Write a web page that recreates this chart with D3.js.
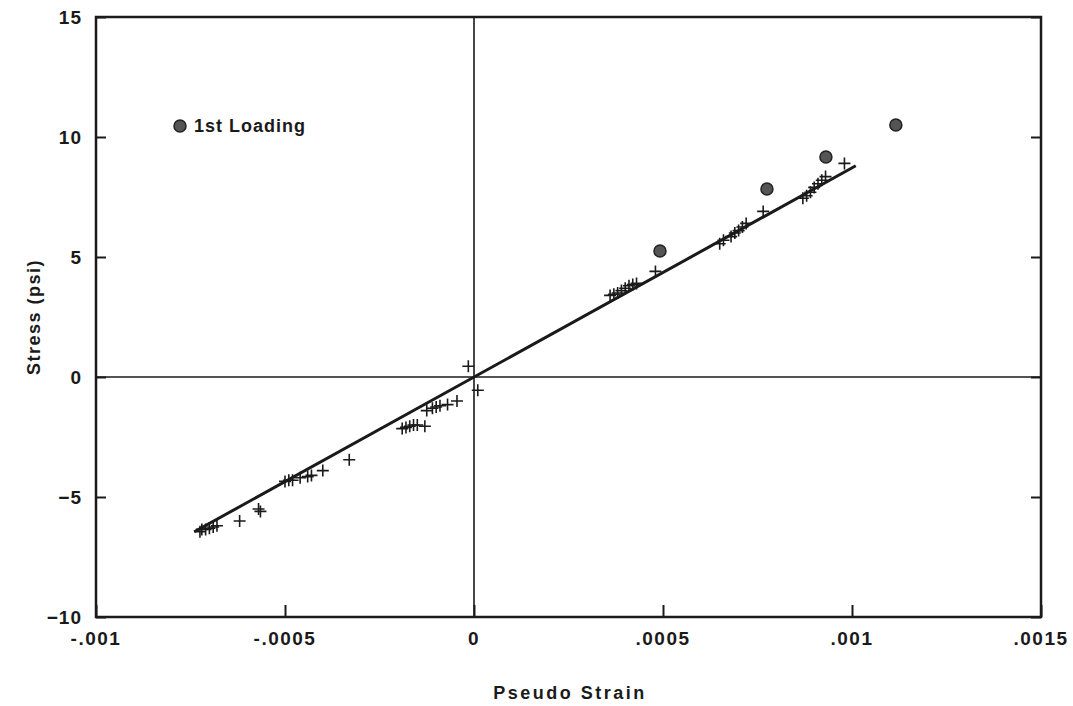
<!DOCTYPE html>
<html>
<head>
<meta charset="utf-8">
<script src="https://cdn.jsdelivr.net/npm/d3@7"></script>
<style>
  body { margin: 0; background: #fff; }
  text { font-family: "Liberation Sans", Arial, sans-serif; font-weight: bold; fill: #1a1a1a; }
</style>
</head>
<body>
<div id="vis"></div>
<script>
// tick values and labels
var xTicks = [-0.001, -0.0005, 0, 0.0005, 0.001, 0.0015];
var xTickLabels = ['-.001', '-.0005', '0', '.0005', '.001', '.0015'];
var yTicks = [-10, -5, 0, 5, 10, 15];

// 1st loading (circles)
var loadStrain = [0.000492, 0.000775, 0.000931, 0.001116];
var loadStress = [5.25, 7.83, 9.17, 10.5];

// other readings (plus markers)
var plusStrain = [-0.000725, -0.00072, -0.00071, -0.0007, -0.00069, -0.00068,
  -0.00062, -0.00057, -0.000565,
  -0.0005, -0.00049, -0.00048, -0.00046, -0.00044, -0.00043,
  -0.0004, -0.00033,
  -0.00019, -0.00018, -0.00017, -0.00016, -0.00015, -0.00013,
  -0.000125, -0.00011, -0.0001, -0.00009, -0.00007, -0.000045,
  -0.000015, 0.00001,
  0.00036, 0.00037, 0.00038, 0.00039, 0.0004, 0.00041, 0.00042, 0.00043,
  0.00048,
  0.00065, 0.00066, 0.00068, 0.00069, 0.0007, 0.00071, 0.00072,
  0.000765,
  0.00087, 0.00088, 0.00089, 0.0009, 0.00091, 0.00092, 0.00093,
  0.00098];
var plusStress = [-6.45, -6.35, -6.35, -6.3, -6.25, -6.2,
  -6.0, -5.5, -5.6,
  -4.35, -4.3, -4.3, -4.2, -4.15, -4.1,
  -3.9, -3.45,
  -2.15, -2.1, -2.05, -2.0, -2.0, -2.05,
  -1.4, -1.3, -1.25, -1.2, -1.15, -1.0,
  0.45, -0.55,
  3.4, 3.45, 3.5, 3.6, 3.7, 3.8, 3.85, 3.9,
  4.4,
  5.55, 5.7, 5.85, 6.0, 6.1, 6.25, 6.4,
  6.9,
  7.45, 7.55, 7.7, 7.9, 8.05, 8.2, 8.35,
  8.9];

// fitted line end points
var fitStrain = [-0.00074, 0.00101];
var fitStress = [-6.45, 8.8];

var width = 1073, height = 706;
var margin = { left: 96, right: 32, top: 17, bottom: 89 };

var svg = d3.select('#vis').append('svg')
  .attr('width', width)
  .attr('height', height);

var x = d3.scaleLinear().domain([-0.001, 0.0015]).range([margin.left, width - margin.right]);
var y = d3.scaleLinear().domain([-10, 15]).range([height - margin.bottom, margin.top]);

var ink = '#1a1a1a';

// zero lines
svg.append('line')
  .attr('x1', x(0)).attr('x2', x(0))
  .attr('y1', y(15)).attr('y2', y(-10))
  .attr('stroke', ink).attr('stroke-width', 1.6);
svg.append('line')
  .attr('x1', x(-0.001)).attr('x2', x(0.0015))
  .attr('y1', y(0)).attr('y2', y(0))
  .attr('stroke', ink).attr('stroke-width', 1.6);

// axes: ticks pointing inward
var bottomAxis = d3.axisTop(x).tickValues(xTicks).tickSize(12).tickFormat('');
svg.append('g').attr('transform', 'translate(0,' + y(-10) + ')').call(bottomAxis);
var leftAxis = d3.axisRight(y).tickValues(yTicks).tickSize(10).tickFormat('');
svg.append('g').attr('transform', 'translate(' + x(-0.001) + ',0)').call(leftAxis);
var rightAxis = d3.axisLeft(y).tickValues(yTicks).tickSize(10).tickFormat('');
svg.append('g').attr('transform', 'translate(' + x(0.0015) + ',0)').call(rightAxis);
svg.selectAll('.domain').remove();
svg.selectAll('.tick line').attr('stroke', ink).attr('stroke-width', 2);

// frame
svg.append('rect')
  .attr('x', x(-0.001)).attr('y', y(15))
  .attr('width', x(0.0015) - x(-0.001))
  .attr('height', y(-10) - y(15))
  .attr('fill', 'none').attr('stroke', ink).attr('stroke-width', 2.5);

// tick labels
svg.selectAll('.xlab').data(xTicks).enter().append('text')
  .attr('class', 'xlab')
  .attr('x', function (d) { return x(d); })
  .attr('y', y(-10) + 28)
  .attr('text-anchor', 'middle')
  .style('font-size', '19px')
  .style('letter-spacing', '1.5px')
  .text(function (d, i) { return xTickLabels[i]; });

svg.selectAll('.ylab').data(yTicks).enter().append('text')
  .attr('class', 'ylab')
  .attr('x', x(-0.001) - 14)
  .attr('y', function (d) { return y(d) + 7; })
  .attr('text-anchor', 'end')
  .style('font-size', '19px')
  .style('letter-spacing', '1px')
  .text(function (d) { return d < 0 ? '\u2212' + Math.abs(d) : d; });

// axis titles
svg.append('text')
  .attr('x', 570).attr('y', 699)
  .attr('text-anchor', 'middle')
  .style('font-size', '18px')
  .style('letter-spacing', '2.5px')
  .text('Pseudo Strain');
svg.append('text')
  .attr('transform', 'translate(40,' + 317 + ') rotate(-90)')
  .attr('text-anchor', 'middle')
  .style('font-size', '18px')
  .style('letter-spacing', '1.5px')
  .text('Stress (psi)');

// fitted line
var line = d3.line()
  .x(function (d) { return x(d[0]); })
  .y(function (d) { return y(d[1]); });
svg.append('path')
  .datum(d3.zip(fitStrain, fitStress))
  .attr('d', line)
  .attr('fill', 'none').attr('stroke', ink).attr('stroke-width', 3);

// plus markers
svg.selectAll('.plus').data(d3.zip(plusStrain, plusStress)).enter().append('path')
  .attr('class', 'plus')
  .attr('d', 'M-6,0H6M0,-6V6')
  .attr('transform', function (d) { return 'translate(' + x(d[0]) + ',' + y(d[1]) + ')'; })
  .attr('stroke', ink).attr('stroke-width', 1.6).attr('fill', 'none');

// circles
svg.selectAll('.load').data(d3.zip(loadStrain, loadStress)).enter().append('circle')
  .attr('class', 'load')
  .attr('cx', function (d) { return x(d[0]); })
  .attr('cy', function (d) { return y(d[1]); })
  .attr('r', 6)
  .attr('fill', '#555')
  .attr('stroke', '#222').attr('stroke-width', 1.5);

// legend
svg.append('circle')
  .attr('cx', 180).attr('cy', 126).attr('r', 6)
  .attr('fill', '#555').attr('stroke', '#222').attr('stroke-width', 1.5);
svg.append('text')
  .attr('x', 194).attr('y', 132)
  .style('font-size', '18px')
  .style('letter-spacing', '1px')
  .text('1st Loading');
</script>
</body>
</html>
